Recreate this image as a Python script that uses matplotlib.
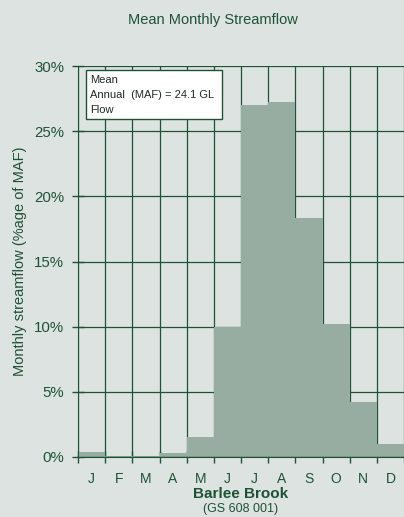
import matplotlib
matplotlib.use("Agg")
import matplotlib.pyplot as plt
from matplotlib.patches import Rectangle
import numpy as np

months = ["J", "F", "M", "A", "M", "J", "J", "A", "S", "O", "N", "D"]
flow_pct = [0.4, 0.1, 0.1, 0.3, 1.55, 10.0, 27.0, 27.2, 18.3, 10.2, 4.2, 1.0]
yticks = [0, 5, 10, 15, 20, 25, 30]
ytick_labels = ["0%", "5%", "10%", "15%", "20%", "25%", "30%"]
box_lines = ["Mean", "Annual  (MAF) = 24.1 GL", "Flow"]

bg = "#DDE3E0"
bar_c = "#97ADA2"
dark = "#1E5236"

plt.rcParams['font.family'] = ['Liberation Sans', 'DejaVu Sans']

fig = plt.figure(figsize=(4.04, 5.17), dpi=100, facecolor=bg)
ax = fig.add_axes([78/404, 1-457/517, 1-78/404, (457-66)/517])
ax.set_facecolor(bg)

x = np.arange(len(months))
# grid
for b in range(len(months) + 1):
    ax.axvline(b, color=dark, lw=0.9, zorder=1)
for t in yticks:
    ax.axhline(t, color=dark, lw=0.9, zorder=1)
ax.bar(x + 0.5, flow_pct, width=1.0, color=bar_c, zorder=2, linewidth=0)
ax.axhline(0, color=dark, lw=1.0, zorder=3)

ax.set_xlim(0, 12)
ax.set_ylim(0, 30)
ax.set_yticks(yticks)
ax.set_yticklabels(ytick_labels, color=dark, fontsize=10.8)
ax.set_xticks(np.arange(13))
ax.set_xticklabels([])
ax.set_xticks(x + 0.5, minor=True)
ax.set_xticklabels(months, minor=True, color=dark, fontsize=10)
ax.tick_params(axis='x', which='minor', length=0, pad=11)
ax.tick_params(axis='x', which='major', direction='inout', length=8, color=dark, width=1)
ax.tick_params(axis='y', direction='inout', length=8, color=dark, width=1, pad=6)
for s in ["top", "right"]:
    ax.spines[s].set_visible(False)
ax.spines["left"].set_color(dark)
ax.spines["bottom"].set_color(dark)
ax.spines["left"].set_zorder(3)
ax.spines["bottom"].set_zorder(3)

ax.set_ylabel("Monthly streamflow (%age of MAF)", color=dark, fontsize=10.5, labelpad=5)

fig.text(213/404, 1-20/517, "Mean Monthly Streamflow", ha="center", va="center",
         color=dark, fontsize=10.5)
fig.text(241/404, 1-494/517, "Barlee Brook", ha="center", va="center",
         color=dark, fontsize=11, fontweight="bold")
fig.text(241/404, 1-509/517, "(GS 608 001)", ha="center", va="center",
         color=dark, fontsize=9)

ax.add_patch(Rectangle((0.294, 25.94), 5.0, 3.76, facecolor="white", edgecolor=dark,
                       lw=1, zorder=5))
for i, line in enumerate(box_lines):
    ax.text(0.44, 28.70 - i * 1.15, line, ha="left", va="baseline",
            fontsize=8, color="#1E2A24", zorder=6)

fig.savefig("out.png", dpi=100, facecolor=bg)
